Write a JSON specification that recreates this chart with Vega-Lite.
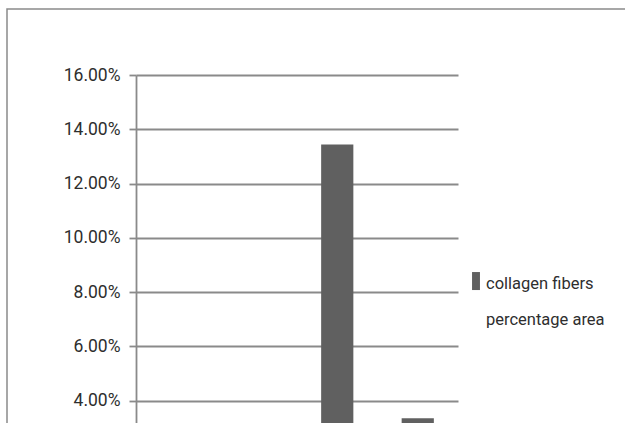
{
  "$schema": "https://vega.github.io/schema/vega-lite/v6.json",
  "width": 640,
  "height": 500,
  "padding": {"left": 7, "top": 9, "right": 0, "bottom": 0},
  "background": "white",
  "config": {
    "view": {"stroke": "#8a8a8a", "strokeWidth": 1.5},
    "font": "Roboto, 'Liberation Sans', sans-serif",
    "style": {"guide-label": {"lineHeight": 36}}
  },
  "data": {
    "values": [
      {"group": "Group I", "pct": 0.012, "measure": "collagen fibers percentage area"},
      {"group": "Group II", "pct": 0.021, "measure": "collagen fibers percentage area"},
      {"group": "Group III", "pct": 0.1344, "measure": "collagen fibers percentage area"},
      {"group": "Group IV", "pct": 0.0335, "measure": "collagen fibers percentage area"}
    ]
  },
  "encoding": {
    "x": {
      "field": "group",
      "type": "nominal",
      "sort": null,
      "scale": {
        "domain": ["", "Group I", "Group II", "Group III", "Group IV", " ", "  "],
        "paddingInner": 0.6,
        "paddingOuter": 0.775155,
        "align": 0.58213
      },
      "axis": null
    }
  },
  "layer": [
    {
      "mark": {"type": "bar"},
      "encoding": {
        "y": {
          "field": "pct",
          "type": "quantitative",
          "scale": {"domain": [0, 0.184332], "nice": false, "zero": true},
          "axis": {
            "orient": "left",
            "offset": -129,
            "values": [0.04, 0.06, 0.08, 0.1, 0.12, 0.14, 0.16],
            "format": ".2%",
            "title": null,
            "grid": false,
            "tickSize": 7,
            "tickColor": "#8a8a8a",
            "tickWidth": 1.8,
            "domainColor": "#8a8a8a",
            "domainWidth": 1.8,
            "domainDash": [434, 300],
            "labelFontSize": 17.5,
            "labelColor": "#2e2e2e",
            "labelPadding": 9
          }
        },
        "color": {
          "field": "measure",
          "type": "nominal",
          "scale": {"range": ["#606060"]},
          "legend": {
            "orient": "none",
            "legendX": 460,
            "legendY": 258,
            "title": null,
            "padding": 0,
            "symbolType": "M-0.44,-0.44H0.44V1.56H-0.44Z",
            "symbolSize": 324,
            "symbolStrokeWidth": 0,
            "labelExpr": "['collagen fibers', 'percentage area']",
            "labelBaseline": "top",
            "labelFontSize": 16.5,
            "labelColor": "#2e2e2e",
            "labelOffset": 1,
            "labelLimit": 300
          }
        }
      }
    },
    {
      "mark": {"type": "bar", "opacity": 0},
      "encoding": {
        "y": {
          "field": "pct",
          "type": "quantitative",
          "axis": {
            "orient": "left",
            "offset": -129,
            "values": [0.02, 0.04, 0.06, 0.08, 0.1, 0.12, 0.14, 0.16],
            "title": null,
            "grid": false,
            "labels": false,
            "domain": false,
            "tickSize": -322,
            "tickColor": "#8a8a8a",
            "tickWidth": 1.8
          }
        }
      }
    }
  ],
  "resolve": {"axis": {"y": "independent"}}
}
